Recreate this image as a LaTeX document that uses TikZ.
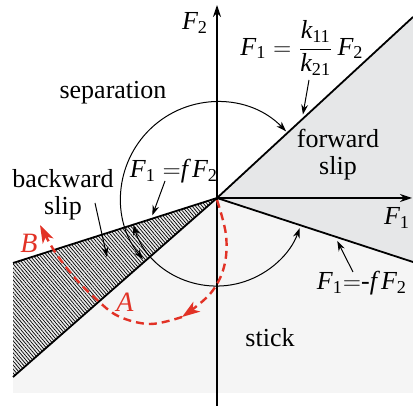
\documentclass[tikz,border=0pt]{standalone}
\usepackage{amsmath}
\usepackage{fontspec}
\setmainfont{Liberation Serif}
\usetikzlibrary{arrows.meta,patterns.meta,calc}
\definecolor{fwdgray}{RGB}{230,231,232}
\definecolor{stkgray}{RGB}{245,245,245}
\definecolor{pathred}{RGB}{226,50,38}
\newcommand\vF{\textit{F}}
\newcommand\vk{\textit{k}}
\newcommand\vf{\textit{f}}
\begin{document}
\begin{tikzpicture}[x=0.5pt,y=-0.5pt,
  lbl/.style={font=\fontsize{13}{13.5}\selectfont, inner sep=1pt, align=center},
  redlbl/.style={font=\fontsize{14}{15}\selectfont\itshape, text=pathred, inner sep=1pt},
  boundary/.style={line width=0.9pt},
  axisline/.style={line width=0.7pt, -{Stealth[length=6pt,width=4pt]}},
  pointer/.style={line width=0.5pt, -{Stealth[length=5pt,width=3.4pt]}},
  cycarc/.style={line width=0.5pt, {Stealth[length=5pt,width=3.4pt]}-{Stealth[length=5pt,width=3.4pt]}},
  redpath/.style={pathred, line width=1.2pt, dash pattern=on 4pt off 2.5pt, -{Stealth[length=9pt,width=6pt,inset=2.5pt]}},
]
\useasboundingbox (0,0) rectangle (413,406);
\coordinate (O) at (217,198);
\coordinate (FR) at (413,17);
\coordinate (FL) at (413,262);
\coordinate (BU) at (13,263);
\coordinate (BL) at (13,377);
\coordinate (SR) at (413,393);
\coordinate (SL) at (13,393);
% regions
\fill[stkgray] (O) -- (FL) -- (SR) -- (SL) -- (BL) -- cycle;
\fill[fwdgray] (O) -- (FR) -- (FL) -- cycle;
\fill[gray!15] (O) -- (BU) -- (BL) -- cycle;
\fill[pattern={Lines[angle=-50,distance=1.3pt,line width=0.35pt]}] (O) -- (BU) -- (BL) -- cycle;
% boundaries
\draw[boundary] (BU) -- (O) -- (FR);
\draw[boundary] (BL) -- (O) -- (FL);
% axes
\coordinate (Ybot) at (217,406);
\coordinate (Ytop) at (217,5);
\coordinate (Xend) at (412,198);
\draw[axisline] (Ybot) -- (Ytop);
\draw[axisline] (O) -- (Xend);
\node[lbl] (f2ax) at (195,23) {$\vF_{\textrm{2}}$};
\node[lbl] (f1ax) at (397,218) {$\vF_{\textrm{1}}$};
% cycle arcs
\draw[cycarc] ([shift={(-44:96)}]O) arc[start angle=-44, end angle=-219.5, radius=96];
\draw[cycarc] ([shift={(-198:88)}]O) arc[start angle=-198, end angle=-340, radius=88];
% region labels
\node[lbl] (sep) at (113,93) {separation};
\node[lbl] (bwd) at (63,195) {backward\\slip};
\node[lbl] (fwd) at (338,155) {forward\\slip};
\node[lbl] (stick) at (270,338) {stick};
% line labels
\node[lbl] (eqk) at (302,48) {$\vF_{\textrm{1}} = \dfrac{\vk_{\textrm{11}}}{\vk_{\textrm{21}}}\,\vF_{\textrm{2}}$};
\node[lbl] (eqf) at (174,171) {$\vF_{\textrm{1}}\;{=}\vf\,\vF_{\textrm{2}}$};
\node[lbl] (eqmf) at (362,283) {$\vF_{\textrm{1}}{=}\textrm{-}\vf\,\vF_{\textrm{2}}$};
\coordinate (pk) at ($(O)!0.434!(FR)$);
\coordinate (pmf) at ($(O)!0.602!(FL)$);
\coordinate (pf) at ($(O)!0.3235!(BU)$);
\coordinate (pbw) at (107,257);
\draw[pointer, shorten >=2.5pt] (309,80) -- (pk);
\draw[pointer, shorten >=2.5pt] (353,272) -- (pmf);
\draw[pointer, shorten >=2pt] (165,181) -- (pf);
\draw[pointer] (95,203) -- (pbw);
% red path
\coordinate (R0) at (217,200);
\coordinate (R1) at (182,317);
\coordinate (R2) at (40,225);
\draw[redpath] plot[smooth, tension=0.6] coordinates {(R0) (226,235) (224,267) (210,294) (R1)};
\draw[redpath] plot[smooth, tension=0.6] coordinates {(R1) (150,324) (118,316) (95,298) (75,278) (55,252) (R2)};
\node[redlbl] (A) at (125,302) {A};
\node[redlbl] (B) at (29,243) {B};
\end{tikzpicture}
\end{document}
